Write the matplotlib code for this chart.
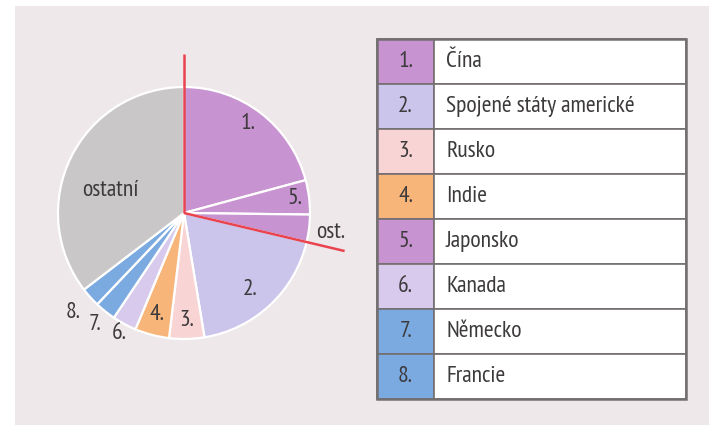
import numpy as np
import matplotlib
matplotlib.use("Agg")
import matplotlib.pyplot as plt
from matplotlib.patches import Rectangle

# ---- data (shares in %, clockwise from 12 o'clock) ----
slice_labels = ["1.", "5.", "ost.", "2.", "3.", "4.", "6.", "7.", "8.", "ostatní"]
slice_values = [20.8, 4.4, 3.5, 18.7, 4.5, 4.4, 3.1, 2.7, 2.5, 35.4]
slice_colors = ["#c793d0", "#c793d0", "#c793d0", "#cbc4eb", "#f9d4d5", "#f8b57a",
                "#d7caec", "#7baae0", "#7baae0", "#c9c7c7"]
label_dist = [0.87, 0.89, 1.17, 0.80, 0.85, 0.83, 1.09, 1.13, 1.18, 0.61]
label_turn = [2.0, 0, -0.5, -2.0, 0, 0, 0, 0, 0, 9.5]  # degrees, counter-clockwise
asia_group = 3  # first three slices form the region marked with red lines

legend_nums = ["1.", "2.", "3.", "4.", "5.", "6.", "7.", "8."]
legend_names = ["Čína", "Spojené státy americké", "Rusko", "Indie", "Japonsko",
                "Kanada", "Německo", "Francie"]
legend_colors = ["#c793d0", "#cbc4eb", "#f9d4d5", "#f8b57a", "#c793d0",
                 "#d7caec", "#7baae0", "#7baae0"]

FONT = ["PT Sans Narrow", "Roboto Condensed", "DejaVu Sans"]
TXT = "#3d3a3c"
BG = "#efe8ea"

W, H = 709, 425
fig = plt.figure(figsize=(W / 100, H / 100), dpi=100)
fig.patch.set_facecolor("white")
ax = fig.add_axes([0, 0, 1, 1])

# paper background
ax.add_patch(Rectangle((15, 0), W - 15, H - 6, facecolor=BG, edgecolor="none", zorder=0))

cx, cy, R = 184, 212, 126
wedges, _ = ax.pie(slice_values, colors=slice_colors, startangle=90, counterclock=False,
                   center=(cx, cy), radius=R, frame=True,
                   wedgeprops=dict(edgecolor="white", linewidth=1.6))
ax.set_xlim(0, W)
ax.set_ylim(0, H)
ax.set_aspect("equal")
ax.axis("off")

# labels placed along mid-angle of each wedge
total = sum(slice_values)
start = 90.0
bounds = [start]
for lab, v, d, t in zip(slice_labels, slice_values, label_dist, label_turn):
    span = v / total * 360
    mid = np.deg2rad(start - span / 2 + t)
    ax.text(cx + d * R * np.cos(mid), cy + d * R * np.sin(mid), lab,
            ha="center", va="center", fontsize=17, color=TXT, family=FONT, zorder=5)
    start -= span
    bounds.append(start)

# red lines delimiting the first group
for ang, L in [(bounds[0], 1.26), (bounds[asia_group], 1.31)]:
    a = np.deg2rad(ang)
    ax.plot([cx, cx + L * R * np.cos(a)], [cy, cy + L * R * np.sin(a)],
            color="#e8434f", lw=1.8, zorder=6, solid_capstyle="butt")

# legend table
x0, x1, x2 = 377, 434, 686
top, bot = H - 39, H - 399
rh = (top - bot) / len(legend_names)
for i, (n, name, c) in enumerate(zip(legend_nums, legend_names, legend_colors)):
    yt = top - i * rh
    ax.add_patch(Rectangle((x0, yt - rh), x1 - x0, rh, facecolor=c, edgecolor="#736e70",
                           lw=1.2, zorder=3))
    ax.add_patch(Rectangle((x1, yt - rh), x2 - x1, rh, facecolor="white", edgecolor="#736e70",
                           lw=1.2, zorder=3))
    ax.text((x0 + x1) / 2, yt - rh / 2, n, ha="center", va="center", fontsize=17,
            color=TXT, family=FONT, zorder=4)
    ax.text(x1 + 12, yt - rh / 2, name, ha="left", va="center", fontsize=17,
            color=TXT, family=FONT, zorder=4)
ax.add_patch(Rectangle((x0, bot), x2 - x0, top - bot, facecolor="none", edgecolor="#736e70",
                       lw=1.8, zorder=4))

fig.savefig("out.png", dpi=100, facecolor=fig.get_facecolor())
